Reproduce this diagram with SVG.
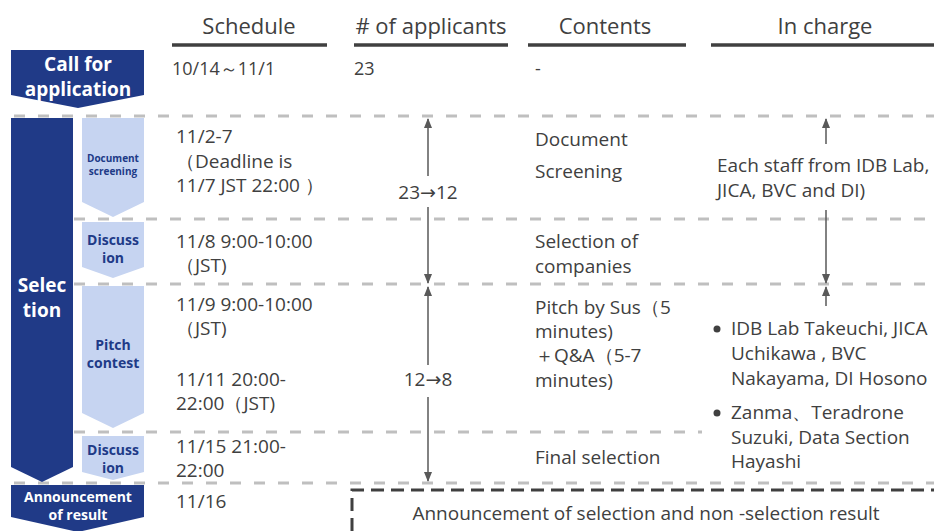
<svg xmlns="http://www.w3.org/2000/svg" width="934" height="531" viewBox="0 0 934 531">
<style>
.t{font-family:"Open Sans","Noto Sans","Liberation Sans",sans-serif;font-size:19px;fill:#404040}
.c{font-family:"Open Sans","Noto Sans","Liberation Sans",sans-serif;font-size:18px;fill:#404040}
.h{font-family:"Open Sans","Noto Sans","Liberation Sans",sans-serif;font-size:22px;fill:#404040;text-anchor:middle}
.ar{font-family:"DejaVu Sans",sans-serif}
.bar{stroke:#404040;stroke-width:3.5}
.sep{stroke:#BFBFBF;stroke-width:3;stroke-dasharray:11 13;fill:none}
.dark{fill:#203A87}
.light{fill:#C6D4F1}
.wl{font-family:"Open Sans","Noto Sans","Liberation Sans",sans-serif;font-weight:bold;fill:#FFFFFF;text-anchor:middle}
.bl{font-family:"Open Sans","Noto Sans","Liberation Sans",sans-serif;font-weight:bold;fill:#203A87;text-anchor:middle}
.arr{stroke:#595959;stroke-width:1.5;fill:none;marker-end:url(#ah)}
</style>
<defs>
<marker id="ah" markerUnits="userSpaceOnUse" markerWidth="10" markerHeight="10" viewBox="0 0 10 10" refX="9" refY="5" orient="auto">
<path d="M0,1 L10,5 L0,9 Z" fill="#595959"/>
</marker>
</defs>
<rect width="934" height="531" fill="#FFFFFF"/>

<g id="header">
<text class="h" x="249" y="34">Schedule</text>
<line class="bar" x1="172" y1="45" x2="327" y2="45"/>
<text class="h" x="431" y="34"># of applicants</text>
<line class="bar" x1="354" y1="45" x2="508" y2="45"/>
<text class="h" x="605" y="34">Contents</text>
<line class="bar" x1="528" y1="45" x2="686" y2="45"/>
<text class="h" x="825" y="34">In charge</text>
<line class="bar" x1="711" y1="45" x2="934" y2="45"/>
</g>

<g id="separators">
<line class="sep" x1="14" y1="116" x2="934" y2="116"/>
<line class="sep" x1="74" y1="219" x2="934" y2="219"/>
<line class="sep" x1="74" y1="284" x2="934" y2="284"/>
<line class="sep" x1="74" y1="432" x2="702" y2="432"/>
<line class="sep" x1="14" y1="483" x2="934" y2="483"/>
</g>

<g id="call-for-application">
<path class="dark" d="M11,50 H144 V95 L78,108 L11,95 Z"/>
<text class="wl" x="78" y="71" font-size="19">Call for</text>
<text class="wl" x="78" y="96" font-size="19">application</text>
</g>

<g id="selection">
<path class="dark" d="M11,118 H73 V467 L42,482 L11,467 Z"/>
<text class="wl" x="42" y="292" font-size="19">Selec</text>
<text class="wl" x="42" y="317" font-size="19">tion</text>
</g>

<g id="document-screening">
<path class="light" d="M82,118 H144 V202 L113,217 L82,202 Z"/>
<text class="bl" x="113" y="162" font-size="10">Document</text>
<text class="bl" x="113" y="175" font-size="10">screening</text>
</g>

<g id="discussion-1">
<path class="light" d="M82,222 H144 V267 L113,278 L82,267 Z"/>
<text class="bl" x="113" y="245" font-size="14">Discuss</text>
<text class="bl" x="113" y="263" font-size="14">ion</text>
</g>

<g id="pitch-contest">
<path class="light" d="M82,286 H144 V413 L113,428 L82,413 Z"/>
<text class="bl" x="113" y="350" font-size="14">Pitch</text>
<text class="bl" x="113" y="368" font-size="14">contest</text>
</g>

<g id="discussion-2">
<path class="light" d="M82,436 H144 V472 L113,480 L82,472 Z"/>
<text class="bl" x="113" y="455" font-size="14">Discuss</text>
<text class="bl" x="113" y="473" font-size="14">ion</text>
</g>

<g id="announcement">
<path class="dark" d="M11,485 H144 V517 L78,532 L11,517 Z"/>
<text class="wl" x="78" y="502" font-size="14">Announcement</text>
<text class="wl" x="78" y="520" font-size="14">of result</text>
</g>

<g id="row-call">
<text class="c" x="172" y="75">10/14～11/1</text>
<text class="c" x="354" y="75">23</text>
<text class="c" x="535" y="75">-</text>
</g>

<g id="schedule">
<text class="t" x="176" y="143">11/2-7</text>
<text class="t" x="176" y="168">（Deadline is</text>
<text class="t" x="176" y="192">11/7 JST 22:00 ）</text>
<text class="t" x="176" y="248">11/8 9:00-10:00</text>
<text class="t" x="176" y="272">（JST)</text>
<text class="t" x="176" y="311">11/9 9:00-10:00</text>
<text class="t" x="176" y="335">（JST)</text>
<text class="t" x="176" y="386">11/11 20:00-</text>
<text class="t" x="176" y="410">22:00（JST)</text>
<text class="t" x="176" y="453">11/15 21:00-</text>
<text class="t" x="176" y="477">22:00</text>
<text class="t" x="176" y="508">11/16</text>
</g>

<g id="applicants">
<text class="t" x="428" y="199" text-anchor="middle">23<tspan class="ar">→</tspan>12</text>
<text class="t" x="428" y="386" text-anchor="middle">12<tspan class="ar">→</tspan>8</text>
</g>

<g id="contents">
<text class="t" x="535" y="146">Document</text>
<text class="t" x="535" y="178">Screening</text>
<text class="t" x="535" y="248">Selection of</text>
<text class="t" x="535" y="273">companies</text>
<text class="t" x="535" y="314">Pitch by Sus（5</text>
<text class="t" x="535" y="338">minutes)</text>
<text class="t" x="535" y="362">＋Q&amp;A（5-7</text>
<text class="t" x="535" y="387">minutes)</text>
<text class="t" x="535" y="464">Final selection</text>
</g>

<g id="in-charge">
<text class="t" x="717" y="172">Each staff from IDB Lab,</text>
<text class="t" x="717" y="197">JICA, BVC and DI)</text>
<circle cx="717" cy="329" r="3.5" fill="#404040"/>
<text class="t" x="731" y="335">IDB Lab Takeuchi,  JICA</text>
<text class="t" x="731" y="360">Uchikawa , BVC</text>
<text class="t" x="731" y="385">Nakayama, DI Hosono</text>
<circle cx="717" cy="413" r="3.5" fill="#404040"/>
<text class="t" x="731" y="419">Zanma、Teradrone</text>
<text class="t" x="731" y="444">Suzuki, Data Section</text>
<text class="t" x="731" y="468">Hayashi</text>
</g>

<g id="result-box">
<path d="M352,531 V490 H934" fill="none" stroke="#404040" stroke-width="3" stroke-dasharray="13 7"/>
<text class="t" x="646" y="520" text-anchor="middle">Announcement of selection and non -selection result</text>
</g>

<g id="connectors">
<line class="arr" x1="428" y1="176" x2="428" y2="119"/>
<line class="arr" x1="428" y1="207" x2="428" y2="283"/>
<line class="arr" x1="428" y1="365" x2="428" y2="287"/>
<line class="arr" x1="428" y1="397" x2="428" y2="481"/>
<line class="arr" x1="826" y1="144" x2="826" y2="119"/>
<line class="arr" x1="826" y1="210" x2="826" y2="283"/>
<line class="arr" x1="826" y1="306" x2="826" y2="287"/>
</g>
</svg>
